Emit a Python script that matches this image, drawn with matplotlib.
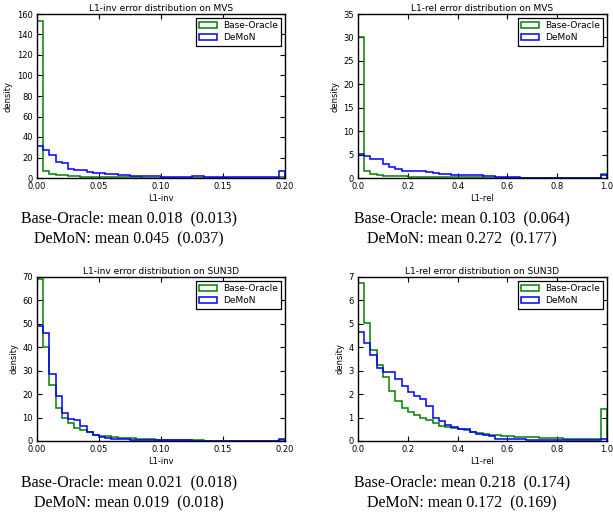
import matplotlib.pyplot as plt
import numpy as np

# bin heights (density), 40 bins per panel
inv_edges = np.linspace(0, 0.2, 41)
rel_edges = np.linspace(0, 1.0, 41)

mvs_inv_oracle = [153, 7, 4, 3, 2.5, 2, 1.6, 1.3, 1.1, 1.0, 0.9, 0.8, 0.7, 0.6, 0.6, 0.5,
                  0.5, 0.4, 0.4, 0.4, 0.4, 0.35, 0.3, 0.3, 0.3, 0.3, 0.3, 0.3, 0.3, 0.3,
                  0.3, 0.3, 0.3, 0.3, 0.3, 0.3, 0.3, 0.3, 0.3, 0.8]
mvs_inv_demon = [31, 27, 22, 16, 15, 9, 8, 7.5, 6, 5, 4.5, 4, 3.5, 3, 2.5, 2.2, 2, 1.8,
                 1.6, 1.5, 1.4, 1.3, 1.2, 1.2, 1.2, 1.5, 1.8, 1.2, 1.0, 1.0, 1.0, 0.9,
                 0.9, 0.8, 0.8, 0.8, 0.8, 0.8, 0.7, 7]

mvs_rel_oracle = [30, 1.6, 0.8, 0.6, 0.5, 0.45, 0.4, 0.35, 0.3, 0.3, 0.25, 0.25, 0.2, 0.2,
                  0.2, 0.2, 0.15, 0.15, 0.15, 0.15, 0.1, 0.1, 0.1, 0.1, 0.1, 0.1, 0.1, 0.1,
                  0.1, 0.1, 0.1, 0.1, 0.1, 0.1, 0.1, 0.1, 0.1, 0.1, 0.1, 0.8]
mvs_rel_demon = [5.2, 4.6, 4.1, 4.1, 2.9, 2.3, 1.9, 1.6, 1.6, 1.4, 1.4, 1.2, 1.1, 0.9, 0.8,
                 0.7, 0.6, 0.6, 0.6, 0.6, 0.5, 0.5, 0.3, 0.2, 0.2, 0.15, 0.1, 0.1, 0.1, 0.1,
                 0.1, 0.1, 0.1, 0.1, 0.1, 0.1, 0.1, 0.1, 0.1, 0.7]

sun_inv_oracle = [69, 40, 24, 14, 10, 7.5, 5.5, 4.5, 4, 2.5, 2, 2, 1.7, 1.4, 1.2, 1.1, 1.0,
                  0.8, 0.7, 0.6, 0.5, 0.4, 0.4, 0.3, 0.3, 0.3, 0.25, 0.2, 0.2, 0.2, 0.2,
                  0.2, 0.2, 0.2, 0.2, 0.2, 0.2, 0.2, 0.2, 0.3]
sun_inv_demon = [49, 46, 28.5, 19, 12, 9.5, 9, 6.5, 4, 2.5, 1.8, 1.3, 1.0, 0.8, 0.7, 0.6,
                 0.5, 0.5, 0.5, 0.4, 0.4, 0.4, 0.4, 0.3, 0.3, 0.2, 0.2, 0.2, 0.2, 0.2, 0.2,
                 0.2, 0.2, 0.2, 0.2, 0.2, 0.2, 0.2, 0.2, 0.8]

sun_rel_oracle = [6.75, 5.05, 3.9, 3.25, 2.75, 2.15, 1.7, 1.4, 1.25, 1.1, 1.0, 0.9, 0.75,
                  0.65, 0.6, 0.55, 0.5, 0.45, 0.4, 0.35, 0.3, 0.27, 0.25, 0.22, 0.2, 0.18,
                  0.17, 0.16, 0.15, 0.14, 0.13, 0.12, 0.11, 0.1, 0.1, 0.09, 0.08, 0.08,
                  0.07, 1.35]
sun_rel_demon = [4.65, 4.2, 3.65, 3.1, 2.95, 2.95, 2.65, 2.35, 2.1, 1.9, 1.8, 1.5, 1.0,
                 0.85, 0.7, 0.6, 0.5, 0.5, 0.4, 0.3, 0.25, 0.2, 0.1, 0.1, 0.1, 0.08, 0.07,
                 0.06, 0.06, 0.06, 0.05, 0.05, 0.05, 0.05, 0.05, 0.05, 0.05, 0.05, 0.05, 0.07]

titles = ["L1-inv error distribution on MVS", "L1-rel error distribution on MVS",
          "L1-inv error distribution on SUN3D", "L1-rel error distribution on SUN3D"]
xlabels = ["L1-inv", "L1-rel", "L1-inv", "L1-rel"]
ymax = [160, 35, 70, 7]
captions = [
    "Base-Oracle: mean 0.018  (0.013)\nDeMoN: mean 0.045  (0.037)",
    "Base-Oracle: mean 0.103  (0.064)\nDeMoN: mean 0.272  (0.177)",
    "Base-Oracle: mean 0.021  (0.018)\nDeMoN: mean 0.019  (0.018)",
    "Base-Oracle: mean 0.218  (0.174)\nDeMoN: mean 0.172  (0.169)",
]
panels = [
    (inv_edges, mvs_inv_oracle, mvs_inv_demon),
    (rel_edges, mvs_rel_oracle, mvs_rel_demon),
    (inv_edges, sun_inv_oracle, sun_inv_demon),
    (rel_edges, sun_rel_oracle, sun_rel_demon),
]

plt.rcParams['font.family'] = 'DejaVu Sans'
fig = plt.figure(figsize=(6.13, 5.19), dpi=100)

W, H = 613.0, 519.0
# axes boxes in pixels: left, right, top, bottom
boxes = [(37, 285, 14, 178), (358, 607, 14, 178), (37, 285, 277, 441), (358, 607, 277, 441)]
cap_x = [129, 462, 129, 462]
cap_y = [229, 229, 493, 493]

for k in range(4):
    l, r, t, b = boxes[k]
    ax = fig.add_axes([l / W, 1 - b / H, (r - l) / W, (b - t) / H])
    edges, ora, dem = panels[k]
    ax.hist(edges[:-1], bins=edges, weights=ora, histtype='step', color=(0, 0.5, 0),
            lw=1.1, label='Base-Oracle')
    ax.hist(edges[:-1], bins=edges, weights=dem, histtype='step', color=(0, 0, 1),
            lw=1.1, label='DeMoN')
    ax.set_xlim(edges[0], edges[-1])
    ax.set_ylim(0, ymax[k])
    if edges[-1] < 0.5:
        ax.set_xticks([0, 0.05, 0.1, 0.15, 0.2])
        ax.set_xticklabels(['0.00', '0.05', '0.10', '0.15', '0.20'])
    else:
        ax.set_xticks([0, 0.2, 0.4, 0.6, 0.8, 1.0])
    ax.tick_params(direction='in', top=True, right=True, labelsize=6, length=3.5,
                   width=0.8)
    ax.tick_params(axis='x', pad=3)
    ax.tick_params(axis='y', pad=3)
    for s in ax.spines.values():
        s.set_linewidth(1.0)
    ax.set_title(titles[k], fontsize=6.5, pad=2)
    ax.set_xlabel(xlabels[k], fontsize=6, labelpad=2)
    ax.set_ylabel('density', fontsize=6, labelpad=3)
    leg = ax.legend(loc='upper right', fontsize=6.5, fancybox=False, framealpha=1,
                    edgecolor='black', borderaxespad=0.4, handlelength=1.9,
                    handletextpad=0.7, labelspacing=0.35, borderpad=0.4)
    leg.get_frame().set_linewidth(0.9)
    fig.text(cap_x[k] / W, 1 - cap_y[k] / H, captions[k], ha='center', va='center',
             family='Liberation Serif', fontsize=11.5, linespacing=1.4)

fig.savefig('out.png', dpi=100)
